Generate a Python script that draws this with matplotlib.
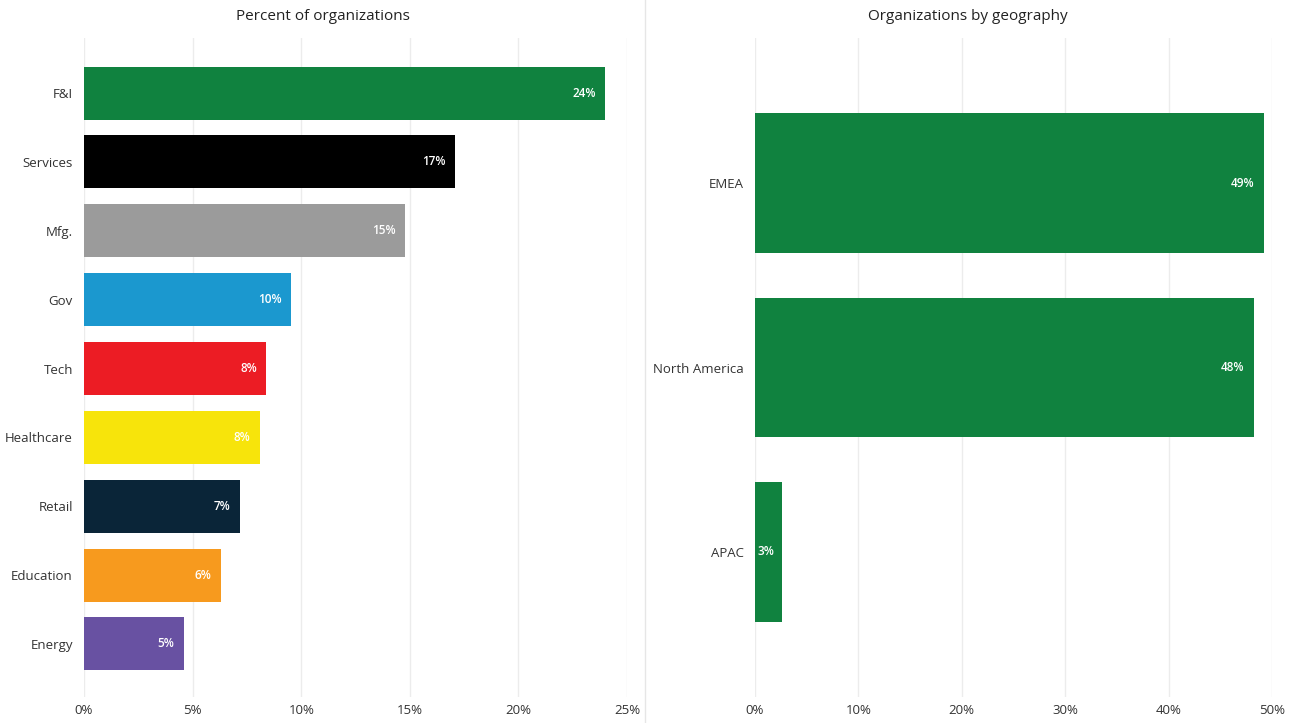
import matplotlib.pyplot as plt
from matplotlib.lines import Line2D
from matplotlib.ticker import FuncFormatter

plt.rcParams['font.family'] = ['Open Sans', 'DejaVu Sans']

# Industry breakdown (percent of organizations)
industries = ['F&I', 'Services', 'Mfg.', 'Gov', 'Tech', 'Healthcare', 'Retail', 'Education', 'Energy']
industry_pct = [24.0, 17.1, 14.8, 9.55, 8.4, 8.1, 7.2, 6.3, 4.6]
industry_colors = ['#10823F', '#000000', '#9B9B9B', '#1B98CF', '#EC1C24',
                   '#F7E40B', '#0A2538', '#F79A1E', '#6851A2']

# Geography breakdown
regions = ['EMEA', 'North America', 'APAC']
region_pct = [49.2, 48.3, 2.6]
region_color = '#10823F'

LABEL_COLOR = '#333333'
GRID_COLOR = '#ECECEC'

fig = plt.figure(figsize=(12.91, 7.23), dpi=100)
ax1 = fig.add_axes([0.0651, 0.036, 0.4206, 0.9114])
ax2 = fig.add_axes([0.5848, 0.036, 0.4005, 0.9114])


def style_axis(ax, xmax, step):
    ax.set_xlim(0, xmax)
    ax.set_xticks(range(0, xmax + 1, step))
    ax.xaxis.set_major_formatter(FuncFormatter(lambda v, _: f'{v:.0f}%'))
    ax.grid(axis='x', color=GRID_COLOR, linewidth=1)
    ax.set_axisbelow(True)
    for s in ax.spines.values():
        s.set_visible(False)
    ax.tick_params(length=0, labelsize=9.5, labelcolor=LABEL_COLOR)
    ax.tick_params(axis='y', pad=8)
    ax.tick_params(axis='x', pad=5)


def add_value_labels(ax, values, min_inside):
    for i, v in enumerate(values):
        text = f'{v:.0f}%'
        if v >= min_inside:
            ax.annotate(text, (v, i), xytext=(-7, 0), textcoords='offset points',
                        ha='right', va='center', fontsize=8.5, fontweight='semibold',
                        color='white')
        else:
            ax.annotate(text, (0, i), xytext=(2, 0), textcoords='offset points',
                        ha='left', va='center', fontsize=8.5, fontweight='semibold',
                        color='white')


# Left panel: industries
ax1.barh(range(len(industries)), industry_pct, height=0.77, color=industry_colors)
ax1.set_yticks(range(len(industries)))
ax1.set_yticklabels(industries)
ax1.set_ylim(8.77, -0.8)
style_axis(ax1, 25, 5)
add_value_labels(ax1, industry_pct, 4)

# Right panel: geography
ax2.barh(range(len(regions)), region_pct, height=0.76, color=region_color)
ax2.set_yticks(range(len(regions)))
ax2.set_yticklabels(regions)
ax2.set_ylim(2.79, -0.79)
style_axis(ax2, 50, 10)
add_value_labels(ax2, region_pct, 5)

# panel titles, centred on each half of the figure
fig.text(0.25, 0.977, 'Percent of organizations', ha='center', va='center',
         fontsize=11, color='#222222')
fig.text(0.75, 0.977, 'Organizations by geography', ha='center', va='center',
         fontsize=11, color='#222222')

# thin divider between the two panels
fig.add_artist(Line2D([0.4996, 0.4996], [0.0, 1.0], color='#E6E6E6', linewidth=1))

fig.savefig('out.png', dpi=100, facecolor='white')
